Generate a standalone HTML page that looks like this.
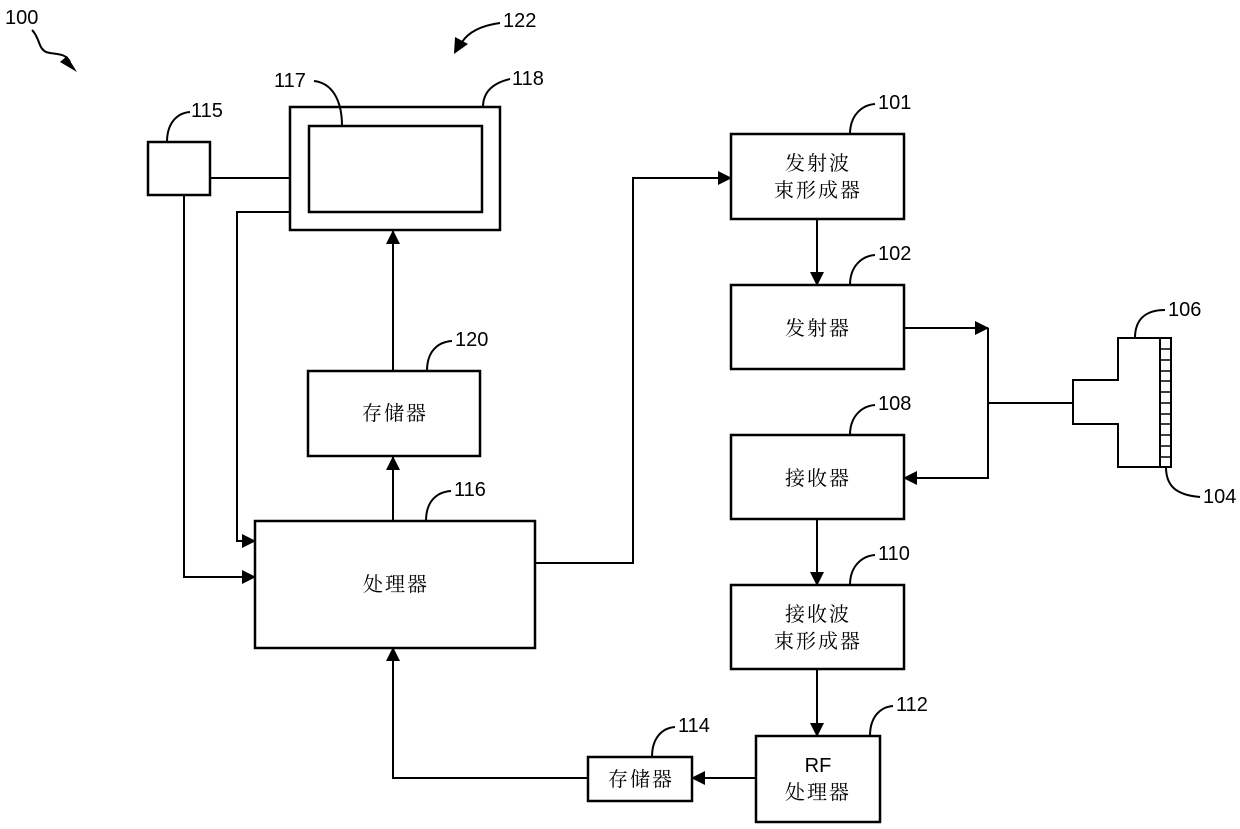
<!DOCTYPE html>
<html><head><meta charset="utf-8"><style>
html,body{margin:0;padding:0;background:#fff;width:1240px;height:829px;overflow:hidden}
svg{display:block}
.n{font-family:"Liberation Sans Narrow","Liberation Sans",sans-serif;font-size:20px;fill:#000}
.c{font-family:"Liberation Serif","Noto Serif CJK SC",serif;font-size:20px;fill:#000;text-anchor:middle;letter-spacing:2px}
</style></head><body>
<svg width="1240" height="829" viewBox="0 0 1240 829" xmlns="http://www.w3.org/2000/svg">
<defs>
<marker id="b" markerWidth="14" markerHeight="14" refX="13" refY="7" orient="auto" markerUnits="userSpaceOnUse"><path d="M0,0 L14,7 L0,14 Z" fill="#000"/></marker></defs>
<g fill="none" stroke="#000" stroke-width="2.5">
<rect x="148" y="142" width="62" height="53"/>
<rect x="290" y="107" width="210" height="123"/>
<rect x="309" y="126" width="173" height="86"/>
<rect x="731" y="134" width="173" height="85"/>
<rect x="731" y="285" width="173" height="84"/>
<rect x="731" y="435" width="173" height="84"/>
<rect x="731" y="585" width="173" height="84"/>
<rect x="756" y="736" width="124" height="86"/>
<rect x="588" y="757" width="104" height="44"/>
<rect x="308" y="371" width="172" height="85"/>
<rect x="255" y="521" width="280" height="127"/>
</g>
<g fill="none" stroke="#000" stroke-width="2">
<line x1="210" y1="178" x2="290" y2="178"/>
<polyline points="290,212 237,212 237,541 255,541" marker-end="url(#b)"/>
<polyline points="184,195 184,577 255,577" marker-end="url(#b)"/>
<line x1="393" y1="371" x2="393" y2="231" marker-end="url(#b)"/>
<line x1="393" y1="521" x2="393" y2="457" marker-end="url(#b)"/>
<polyline points="535,563 633,563 633,178 731,178" marker-end="url(#b)"/>
<line x1="817" y1="219" x2="817" y2="285" marker-end="url(#b)"/>
<line x1="904" y1="328" x2="988" y2="328" marker-end="url(#b)"/>
<polyline points="988,328 988,478 904,478" marker-end="url(#b)"/>
<line x1="988" y1="403" x2="1073" y2="403"/>
<line x1="817" y1="519" x2="817" y2="585" marker-end="url(#b)"/>
<line x1="817" y1="669" x2="817" y2="736" marker-end="url(#b)"/>
<line x1="756" y1="778" x2="692" y2="778" marker-end="url(#b)"/>
<polyline points="588,778 393,778 393,648" marker-end="url(#b)"/>
<path d="M1160,338 L1118,338 L1118,380 L1073,380 L1073,424 L1118,424 L1118,467 L1160,467"/>
<rect x="1160" y="338" width="11" height="129"/>
<path d="M32,30 C40,38 38,48 46,52 C55,55 65,52 70,62" />
<path d="M500,23 C485,25 470,30 462,42"/>
<path d="M850,134 C850,115 862,105 875,104"/>
<path d="M850,285 C850,266 862,256 875,255"/>
<path d="M850,435 C850,416 862,406 875,405"/>
<path d="M850,585 C850,566 862,556 875,555"/>
<path d="M870,736 C870,717 880,707 893,706"/>
<path d="M652,757 C652,738 662,728 675,727"/>
<path d="M427,371 C427,352 437,342 452,341"/>
<path d="M426,521 C426,502 436,492 451,491"/>
<path d="M483,107 C483,92 493,83 510,79"/>
<path d="M342,126 C342,100 332,83 314,81"/>
<path d="M167,142 C167,123 177,113 190,112"/>
<path d="M1135,338 C1135,320 1145,310 1165,310"/>
<path d="M1166,467 C1166,485 1175,495 1200,497"/>
</g>
<path d="M60,62 L77,72 L67,56 Z" fill="#000"/>
<path d="M455,37 L454,54 L468,44 Z" fill="#000"/>
<g stroke="#000" stroke-width="1.5">
<line x1="1160" y1="349" x2="1171" y2="349"/><line x1="1160" y1="360" x2="1171" y2="360"/><line x1="1160" y1="371" x2="1171" y2="371"/><line x1="1160" y1="381" x2="1171" y2="381"/><line x1="1160" y1="392" x2="1171" y2="392"/><line x1="1160" y1="403" x2="1171" y2="403"/><line x1="1160" y1="414" x2="1171" y2="414"/><line x1="1160" y1="424" x2="1171" y2="424"/><line x1="1160" y1="435" x2="1171" y2="435"/><line x1="1160" y1="446" x2="1171" y2="446"/><line x1="1160" y1="457" x2="1171" y2="457"/>
</g>
<g class="n">
<text x="5" y="24">100</text>
<text x="503" y="27">122</text>
<text x="512" y="85">118</text>
<text x="274" y="87">117</text>
<text x="191" y="117">115</text>
<text x="878" y="109">101</text>
<text x="878" y="260">102</text>
<text x="878" y="410">108</text>
<text x="878" y="560">110</text>
<text x="896" y="711">112</text>
<text x="678" y="732">114</text>
<text x="455" y="346">120</text>
<text x="454" y="496">116</text>
<text x="1168" y="316">106</text>
<text x="1203" y="503">104</text>
</g>
<g class="c">
<text x="818" y="170">发射波</text>
<text x="818" y="197">束形成器</text>
<text x="818" y="335">发射器</text>
<text x="818" y="485">接收器</text>
<text x="818" y="621">接收波</text>
<text x="818" y="648">束形成器</text>
<text x="818" y="772" style="font-family:'Liberation Sans',sans-serif;letter-spacing:0">RF</text>
<text x="818" y="799">处理器</text>
<text x="641" y="786">存储器</text>
<text x="395" y="420">存储器</text>
<text x="396" y="591">处理器</text>
</g>
</svg>
</body></html>
